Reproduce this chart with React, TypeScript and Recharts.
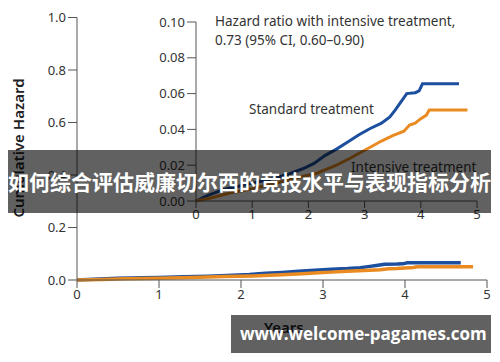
import React from 'react';
import { LineChart, Line, XAxis, YAxis } from 'recharts';

// cumulative hazard (years, hazard)
const standardYears = [0, 0.2, 0.5, 0.8, 1.0, 1.3, 1.6, 1.9, 2.1, 2.3, 2.5, 2.7, 2.9, 3.1, 3.3, 3.45, 3.55, 3.65, 3.75, 3.9, 3.97, 4.03, 4.68];
const standardHazard = [0, 0.003, 0.0065, 0.0085, 0.01, 0.012, 0.0145, 0.018, 0.021, 0.0255, 0.029, 0.033, 0.037, 0.0405, 0.0435, 0.047, 0.051, 0.0555, 0.06, 0.0605, 0.0615, 0.0655, 0.0655];
const intensiveYears = [0, 0.3, 0.6, 1.0, 1.4, 1.8, 2.15, 2.5, 2.75, 2.95, 3.1, 3.3, 3.5, 3.7, 3.8, 3.9, 4.0, 4.1, 4.15, 4.83];
const intensiveHazard = [0, 0.002, 0.0045, 0.0068, 0.0098, 0.013, 0.0155, 0.02, 0.024, 0.0275, 0.03, 0.0335, 0.0365, 0.039, 0.0424, 0.0435, 0.046, 0.048, 0.0508, 0.0508];

const yearTicks = [0, 1, 2, 3, 4, 5];
const mainTicks = [0, 0.2, 0.4, 0.6, 0.8, 1.0];
const insetTicks = [0, 0.02, 0.04, 0.06, 0.08, 0.1];

const title = '如何综合评估威廉切尔西的竞技水平与表现指标分析';
const watermark = 'www.welcome-pagames.com';

const standard = standardYears.map((t, i) => ({ t, v: standardHazard[i] }));
const intensive = intensiveYears.map((t, i) => ({ t, v: intensiveHazard[i] }));

const BLUE = '#1d4f9f';
const ORANGE = '#e98b20';
const AXIS = '#555';
const FONT = '"Noto Sans", "Open Sans", sans-serif';
const tick = { fontSize: 13, fill: '#333', fontFamily: FONT };

const App = () => {
    return (
        <div style={{ position: 'absolute', left: 0, top: 0, width: 500, height: 362, background: '#fff', fontFamily: FONT }}>
            {/* main chart */}
            <div style={{ position: 'absolute', left: 0, top: 0 }}>
                <LineChart width={500} height={362} margin={{ top: 17.5, right: 13, left: 35, bottom: 52 }}>
                    <XAxis type="number" dataKey="t" domain={[0, 5]} ticks={yearTicks} allowDuplicatedCategory={false}
                        stroke={AXIS} tick={tick} tickSize={8} tickMargin={2} height={30} />
                    <YAxis type="number" dataKey="v" domain={[0, 1]} ticks={mainTicks} tickFormatter={(v) => v.toFixed(1)}
                        stroke={AXIS} tick={tick} tickSize={9} tickMargin={2} width={42} />
                    <Line data={standard} dataKey="v" stroke={BLUE} strokeWidth={3.5} dot={false} isAnimationActive={false} />
                    <Line data={intensive} dataKey="v" stroke={ORANGE} strokeWidth={3.5} dot={false} isAnimationActive={false} />
                </LineChart>
            </div>

            {/* inset */}
            <div style={{ position: 'absolute', left: 0, top: 0 }}>
                <LineChart width={500} height={362} margin={{ top: 22, right: 23, left: 150, bottom: 136 }}>
                    <XAxis type="number" dataKey="t" domain={[0, 5]} ticks={yearTicks} allowDuplicatedCategory={false}
                        stroke={AXIS} tick={tick} tickSize={7} tickMargin={2} height={25} />
                    <YAxis type="number" dataKey="v" domain={[0, 0.1]} ticks={insetTicks} tickFormatter={(v) => v.toFixed(2)}
                        stroke={AXIS} tick={tick} tickSize={9} tickMargin={2} width={46} />
                    <Line data={standard} dataKey="v" stroke={BLUE} strokeWidth={3} dot={false} isAnimationActive={false} />
                    <Line data={intensive} dataKey="v" stroke={ORANGE} strokeWidth={3} dot={false} isAnimationActive={false} />
                </LineChart>
            </div>

            <div style={{ position: 'absolute', left: 215, top: 12, fontSize: 13.5, lineHeight: '19px', color: '#333' }}>
                Hazard ratio with intensive treatment,<br />0.73 (95% CI, 0.60–0.90)
            </div>
            <div style={{ position: 'absolute', left: 249, top: 100, fontSize: 13.5, color: '#333' }}>Standard treatment</div>
            <div style={{ position: 'absolute', left: 351, top: 158, fontSize: 13.5, color: '#333' }}>Intensive treatment</div>

            <div style={{ position: 'absolute', left: 18, top: 148, transform: 'translate(-50%, -50%) rotate(-90deg)', fontSize: 15, fontWeight: 600, color: '#222', whiteSpace: 'nowrap' }}>
                Cumulative Hazard
            </div>
            <div style={{ position: 'absolute', left: 264, top: 317, fontSize: 15, fontWeight: 600, color: '#222' }}>Years</div>

            {/* overlays */}
            <div style={{ position: 'absolute', left: 8, top: 150, width: 483, height: 63, background: 'rgba(0,0,0,0.62)', color: '#fff', fontFamily: '"Noto Sans CJK SC", sans-serif', fontWeight: 700, fontSize: 21, lineHeight: '63px', whiteSpace: 'nowrap' }}>
                {title}
            </div>
            <div style={{ position: 'absolute', left: 231, top: 315, width: 260, height: 38, background: 'rgba(0,0,0,0.62)', color: '#fff', fontFamily: '"Open Sans", sans-serif', fontWeight: 700, fontSize: 17, lineHeight: '38px', paddingLeft: 9, boxSizing: 'border-box', whiteSpace: 'nowrap' }}>
                {watermark}
            </div>
        </div>
    );
};

export default App;
